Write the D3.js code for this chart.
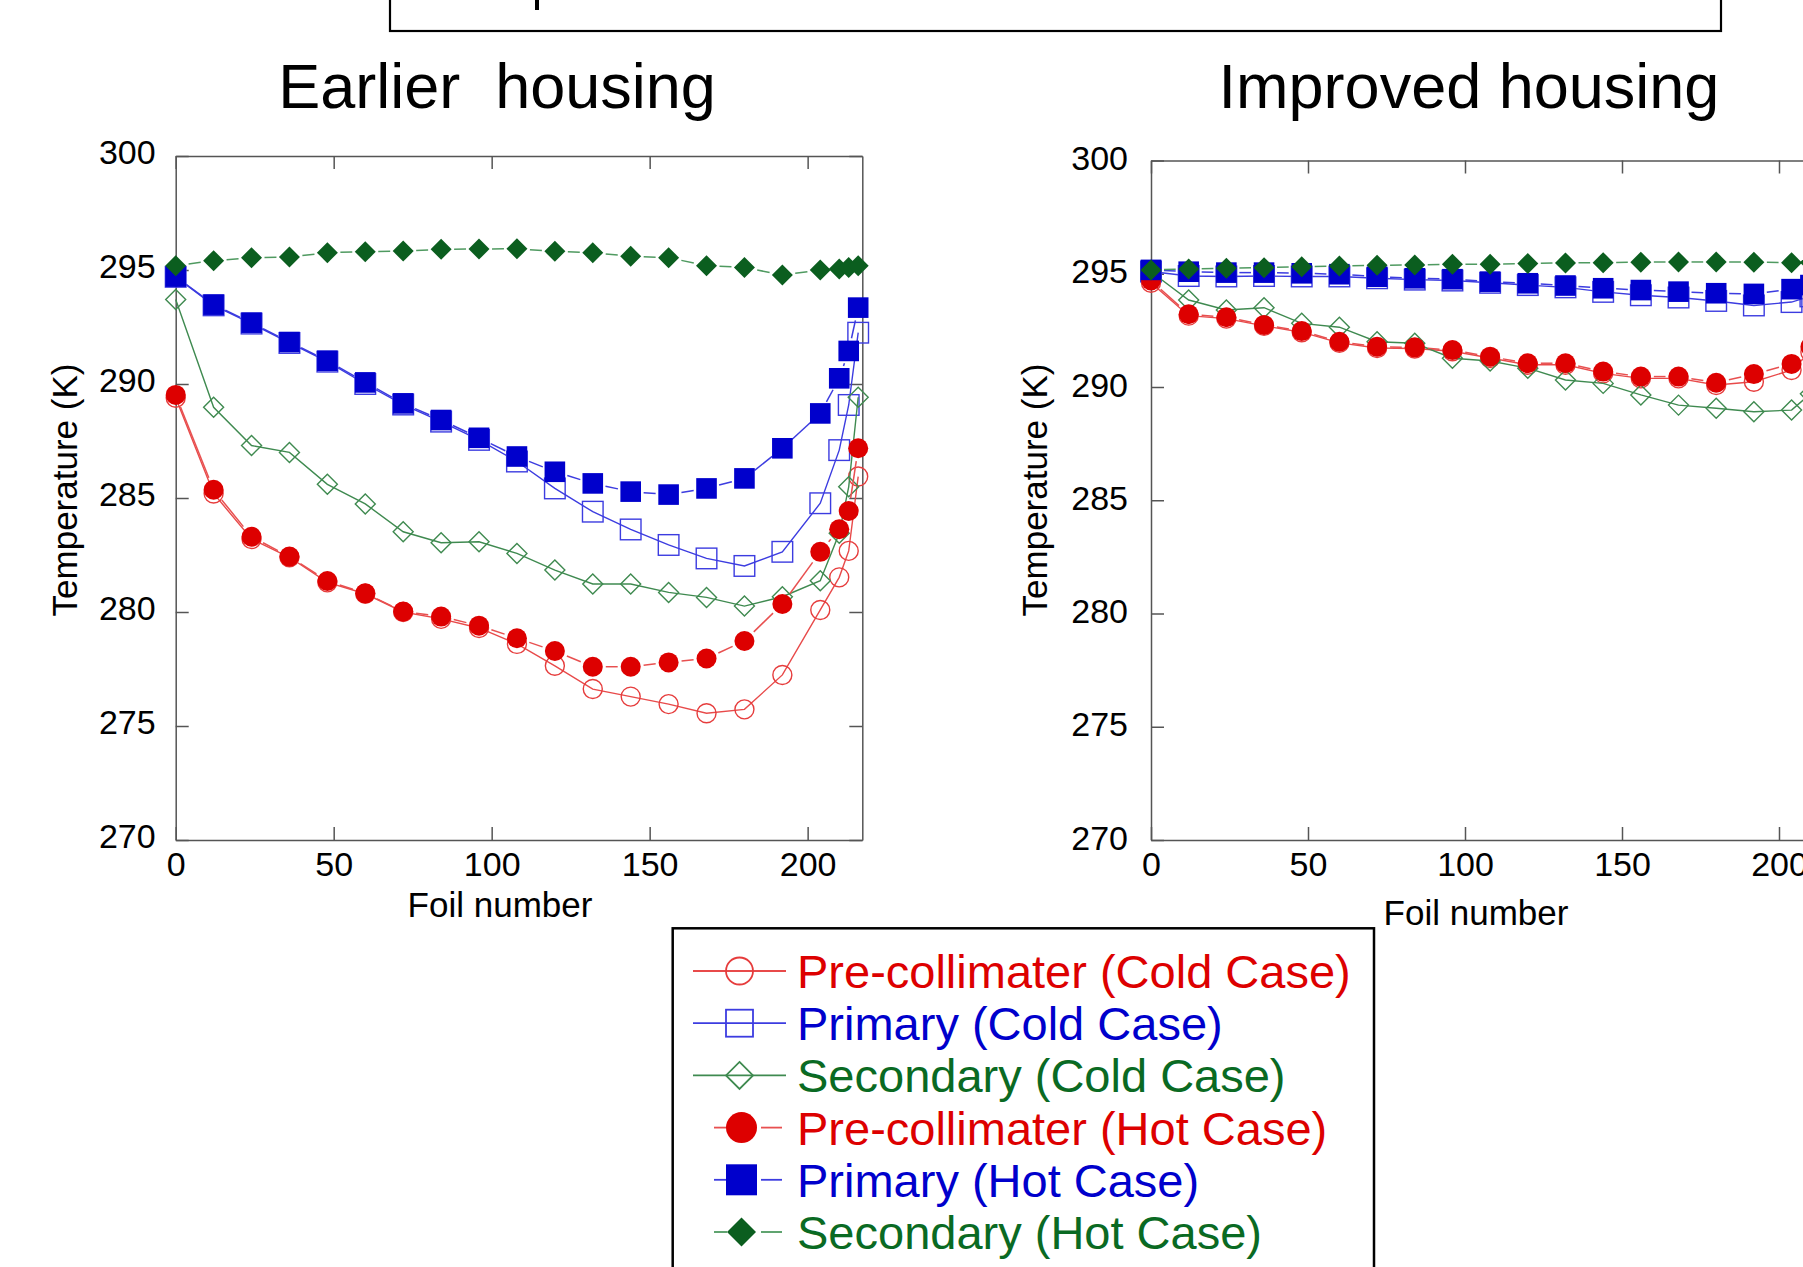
<!DOCTYPE html>
<html>
<head>
<meta charset="utf-8">
<script src="https://cdn.jsdelivr.net/npm/d3@7"></script>
<style>
  body { margin: 0; background: #fff; }
  svg { display: block; }
  text { font-family: "Liberation Sans", Arial, Helvetica, sans-serif; }
</style>
</head>
<body>
<svg id="chart" width="1803" height="1267"></svg>
<script>
// ---- data -------------------------------------------------------------
const foil = [0, 12, 24, 36, 48, 60, 72, 84, 96, 108, 120, 132, 144, 156, 168, 180, 192, 204, 210, 213, 216];
const foilImproved = [0, 12, 24, 36, 48, 60, 72, 84, 96, 108, 120, 132, 144, 156, 168, 180, 192, 204, 210];

const yTicks = [270, 275, 280, 285, 290, 295, 300];
const xTicks = [0, 50, 100, 150, 200];

const seriesLabels = [
  "Pre-collimater (Cold Case)",
  "Primary (Cold Case)",
  "Secondary (Cold Case)",
  "Pre-collimater (Hot Case)",
  "Primary (Hot Case)",
  "Secondary (Hot Case)"
];

// Earlier housing (K)
const earlierPreCold  = [289.4, 285.2, 283.2, 282.4, 281.3, 280.8, 280.0, 279.7, 279.3, 278.6, 277.64, 276.62, 276.29, 275.96, 275.56, 275.73, 277.24, 280.09, 281.52, 282.68, 285.94];
const earlierPrimCold = [294.7, 293.45, 292.65, 291.8, 290.98, 290.0, 289.1, 288.35, 287.55, 286.6, 285.42, 284.4, 283.62, 282.94, 282.35, 282.02, 282.64, 284.77, 287.1, 289.08, 292.25];
const earlierSecCold  = [293.71, 288.98, 287.3, 287.0, 285.6, 284.74, 283.52, 283.04, 283.08, 282.57, 281.84, 281.23, 281.23, 280.86, 280.64, 280.26, 280.67, 281.37, 283.45, 285.49, 289.42];
const earlierPreHot   = [289.52, 285.36, 283.3, 282.43, 281.36, 280.82, 280.02, 279.8, 279.4, 278.85, 278.29, 277.6, 277.6, 277.79, 277.96, 278.73, 280.35, 282.64, 283.63, 284.43, 287.18];
const earlierPrimHot  = [294.71, 293.48, 292.69, 291.84, 291.02, 290.07, 289.15, 288.42, 287.64, 286.82, 286.15, 285.64, 285.28, 285.15, 285.42, 285.86, 287.18, 288.71, 290.25, 291.45, 293.35];
const earlierSecHot   = [295.19, 295.41, 295.54, 295.57, 295.76, 295.8, 295.83, 295.91, 295.92, 295.93, 295.82, 295.76, 295.6, 295.54, 295.19, 295.11, 294.78, 295.0, 295.04, 295.11, 295.19];

// Improved housing (K)
const improvedPreCold  = [294.6, 293.15, 293.02, 292.7, 292.42, 291.95, 291.72, 291.7, 291.58, 291.28, 290.98, 290.98, 290.6, 290.38, 290.38, 290.09, 290.23, 290.75, 291.55];
const improvedPrimCold = [295.1, 294.9, 294.88, 294.9, 294.88, 294.88, 294.8, 294.74, 294.7, 294.6, 294.5, 294.4, 294.2, 294.05, 293.95, 293.8, 293.6, 293.75, 294.0];
const improvedSecCold  = [295.09, 293.84, 293.4, 293.5, 292.81, 292.64, 292.0, 291.93, 291.27, 291.15, 290.83, 290.31, 290.16, 289.65, 289.2, 289.06, 288.91, 288.98, 289.7];
const improvedPreHot   = [294.7, 293.21, 293.08, 292.74, 292.47, 292.0, 291.78, 291.75, 291.63, 291.34, 291.05, 291.05, 290.68, 290.46, 290.46, 290.19, 290.57, 291.02, 291.78];
const improvedPrimHot  = [295.17, 295.09, 295.05, 295.05, 295.02, 294.98, 294.87, 294.8, 294.76, 294.65, 294.58, 294.48, 294.36, 294.28, 294.21, 294.14, 294.11, 294.32, 294.5];
const improvedSecHot   = [295.17, 295.21, 295.24, 295.27, 295.31, 295.34, 295.37, 295.39, 295.42, 295.42, 295.45, 295.48, 295.49, 295.51, 295.52, 295.52, 295.51, 295.49, 295.5];

// ---- styles -----------------------------------------------------------
const RED = "#dd0000", BLUE = "#0000cc", GREEN = "#0b5e1f";
const TEXT_GREEN = "#0a6a23";
const styles = [
  { shape: "circle",  filled: false, color: "#e63c3c", line: "#e84a4a", hot: false, text: RED },
  { shape: "square",  filled: false, color: "#3c3ce0", line: "#3c3ce0", hot: false, text: BLUE },
  { shape: "diamond", filled: false, color: "#3f8a50", line: "#3f8a50", hot: false, text: TEXT_GREEN },
  { shape: "circle",  filled: true,  color: RED,   line: "#e85050", hot: true, text: RED },
  { shape: "square",  filled: true,  color: BLUE,  line: "#3c3ce0", hot: true, text: BLUE },
  { shape: "diamond", filled: true,  color: GREEN, line: "#4f9a60", hot: true, text: TEXT_GREEN }
];

const svg = d3.select("#chart");
svg.append("rect").attr("width", 1803).attr("height", 1267).attr("fill", "#fff");

function marker(g, shape, cx, cy, s, filled, color, sw) {
  let el;
  if (shape === "circle") {
    el = g.append("circle").attr("cx", cx).attr("cy", cy).attr("r", s);
  } else if (shape === "square") {
    el = g.append("rect").attr("x", cx - s).attr("y", cy - s).attr("width", 2 * s).attr("height", 2 * s);
  } else {
    el = g.append("path").attr("d", `M${cx},${cy - s}L${cx + s},${cy}L${cx},${cy + s}L${cx - s},${cy}Z`);
  }
  if (filled) el.attr("fill", color).attr("stroke", "none");
  else el.attr("fill", "none").attr("stroke", color).attr("stroke-width", sw || 1.4);
  return el;
}

const markerSize = { circle: [9.5, 10], square: [10.3, 10.3], diamond: [10, 10.5] };

function drawPanel(p) {
  const x = d3.scaleLinear().domain([0, 217.3]).range([p.x0, p.x1]);
  const y = d3.scaleLinear().domain([270, 300]).range([840, p.yTop]);
  const g = svg.append("g");
  const axisColor = "#555";

  // frame with inward ticks on all four sides
  const bottom = g.append("g").attr("transform", `translate(0,${y(270)})`)
    .call(d3.axisBottom(x).tickValues(xTicks).tickSize(-13).tickSizeOuter(0).tickPadding(12).tickFormat(d3.format("d")));
  const top = g.append("g").attr("transform", `translate(0,${y(300)})`)
    .call(d3.axisTop(x).tickValues(xTicks).tickSize(-13).tickSizeOuter(0).tickFormat(""));
  const left = g.append("g").attr("transform", `translate(${x(0)},0)`)
    .call(d3.axisLeft(y).tickValues(yTicks).tickSize(-13).tickSizeOuter(0).tickPadding(p.labelGap).tickFormat(d3.format("d")));
  const right = g.append("g").attr("transform", `translate(${x(217.3)},0)`)
    .call(d3.axisRight(y).tickValues(yTicks).tickSize(-13).tickSizeOuter(0).tickFormat(""));
  [bottom, top, left, right].forEach(a => {
    a.select(".domain").attr("stroke", axisColor).attr("stroke-width", 1.5);
    a.selectAll(".tick line").attr("stroke", axisColor).attr("stroke-width", 1.5);
    a.selectAll("text").attr("fill", "#000").attr("font-size", 34)
      .attr("font-family", "'Liberation Sans', Arial, sans-serif");
  });
  left.selectAll("text").attr("dy", null).attr("y", p.yLabelDy);
  bottom.selectAll("text").attr("dy", "0.71em");

  // axis titles
  g.append("text").attr("x", p.xTitleX).attr("y", p.xTitleY).attr("text-anchor", "middle")
    .attr("font-size", 35).text("Foil number");
  g.append("text").attr("transform", `translate(${p.yTitleX},490) rotate(-90)`).attr("text-anchor", "middle")
    .attr("font-size", 35).text("Temperature (K)");
  g.append("text").attr("x", p.titleX).attr("y", 108).attr("text-anchor", "middle")
    .attr("font-size", 63).style("white-space", "pre").text(p.title);

  // series
  p.series.forEach((vals, i) => {
    const st = styles[i];
    const pts = vals.map((v, k) => [x(p.foil[k]), y(v)]);
    const sg = g.append("g");
    if (!st.hot) {
      sg.append("path").attr("d", d3.line()(pts)).attr("fill", "none")
        .attr("stroke", st.line).attr("stroke-width", 1.4);
    } else {
      const t = 13;
      for (let k = 0; k < pts.length - 1; k++) {
        const [ax, ay] = pts[k], [bx, by] = pts[k + 1];
        const L = Math.hypot(bx - ax, by - ay);
        if (L <= 2 * t + 2) continue;
        const ux = (bx - ax) / L, uy = (by - ay) / L;
        sg.append("line")
          .attr("x1", ax + ux * t).attr("y1", ay + uy * t)
          .attr("x2", bx - ux * t).attr("y2", by - uy * t)
          .attr("stroke", st.line).attr("stroke-width", 1.5);
      }
    }
    const s = markerSize[st.shape][st.hot ? 1 : 0];
    pts.forEach(([px, py]) => marker(sg, st.shape, px, py, s, st.filled, st.color, 1.4));
  });
}

drawPanel({
  title: "Earlier  housing", titleX: 497,
  x0: 175.7, x1: 862.3, yTop: 156, labelGap: 20, yLabelDy: 7,
  xTitleX: 500, xTitleY: 917, yTitleX: 77,
  foil: foil,
  series: [earlierPreCold, earlierPrimCold, earlierSecCold, earlierPreHot, earlierPrimHot, earlierSecHot]
});

drawPanel({
  title: "Improved housing", titleX: 1469,
  x0: 1151, x1: 1151 + 217.3 * 3.14, yTop: 160.5, labelGap: 23, yLabelDy: 9,
  xTitleX: 1476, xTitleY: 925, yTitleX: 1047,
  foil: foilImproved,
  series: [improvedPreCold, improvedPrimCold, improvedSecCold, improvedPreHot, improvedPrimHot, improvedSecHot]
});

// header box along the top edge
svg.append("rect").attr("x", 390).attr("y", -20).attr("width", 1331).attr("height", 51)
  .attr("fill", "none").attr("stroke", "#000").attr("stroke-width", 2.2);
svg.append("rect").attr("x", 535).attr("y", 0).attr("width", 4).attr("height", 10).attr("fill", "#000");

// legend
const lg = svg.append("g");
lg.append("rect").attr("x", 672.7).attr("y", 928.3).attr("width", 701.3).attr("height", 400)
  .attr("fill", "#fff").attr("stroke", "#000").attr("stroke-width", 2.5);
seriesLabels.forEach((label, i) => {
  const st = styles[i];
  const base = 988 + i * 52.2;
  const ly = base - 17;
  if (!st.hot) {
    lg.append("line").attr("x1", 693).attr("x2", 786).attr("y1", ly).attr("y2", ly)
      .attr("stroke", st.line).attr("stroke-width", 1.8);
    marker(lg, st.shape, 739.5, ly, 13.5, false, st.color, 1.8);
  } else {
    lg.append("line").attr("x1", 714).attr("x2", 727).attr("y1", ly).attr("y2", ly)
      .attr("stroke", st.line).attr("stroke-width", 1.8);
    lg.append("line").attr("x1", 761).attr("x2", 782).attr("y1", ly).attr("y2", ly)
      .attr("stroke", st.line).attr("stroke-width", 1.8);
    marker(lg, st.shape, 741.5, ly, st.shape === "diamond" ? 14.5 : 15.5, true, st.color);
  }
  lg.append("text").attr("x", 797).attr("y", base).attr("font-size", 47)
    .attr("fill", st.text).text(label);
});
</script>
</body>
</html>
